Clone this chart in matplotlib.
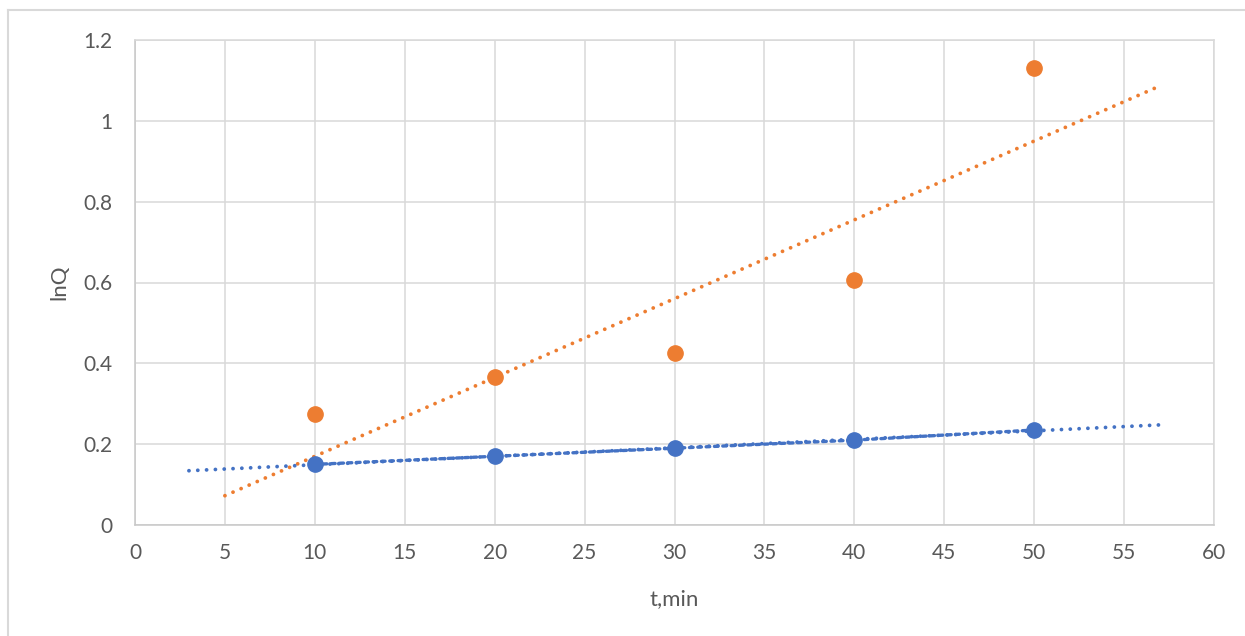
import numpy as np
import matplotlib
matplotlib.use("Agg")
import matplotlib.pyplot as plt
from matplotlib.lines import Line2D

# Data
t_min = [10, 20, 30, 40, 50]
lnQ_blue = [0.150, 0.170, 0.190, 0.210, 0.235]
lnQ_orange = [0.275, 0.365, 0.425, 0.605, 1.130]
blue_trend_range = [3, 57]
orange_trend_range = [5, 57]
x_ticks = [0, 5, 10, 15, 20, 25, 30, 35, 40, 45, 50, 55, 60]
y_ticks = [0, 0.2, 0.4, 0.6, 0.8, 1.0, 1.2]
y_tick_labels = ["0", "0.2", "0.4", "0.6", "0.8", "1", "1.2"]

BLUE = "#4472C4"
ORANGE = "#ED7D31"
GRID = "#D9D9D9"
TXT = "#595959"

plt.rcParams['font.family'] = ['Lato', 'DejaVu Sans']

fig = plt.figure(figsize=(12.45, 6.36), dpi=100)
ax = fig.add_axes([135/1245, 1-525/636, (1214-135)/1245, (525-40)/636])

# chart border (top and left)
fig.add_artist(Line2D([8/1245, 8/1245], [0, 1-10/636], transform=fig.transFigure,
                      color=GRID, lw=1.5))
fig.add_artist(Line2D([8/1245, 1], [1-10/636, 1-10/636], transform=fig.transFigure,
                      color=GRID, lw=1.5))

ax.set_xlim(0, 60)
ax.set_ylim(0, 1.2)
ax.set_xticks(x_ticks)
ax.set_yticks(y_ticks)
ax.set_yticklabels(y_tick_labels)
ax.grid(True, color=GRID, lw=1.1)
ax.set_axisbelow(True)
for s in ax.spines.values():
    s.set_color(GRID)
    s.set_linewidth(1.1)
ax.spines['bottom'].set_color("#C8C8C8")
ax.spines['left'].set_color("#C8C8C8")
ax.tick_params(length=0, labelsize=15, colors=TXT)
ax.tick_params(axis='x', pad=13)
ax.tick_params(axis='y', pad=16)

# trendlines (linear least squares)
def trend(x, y, rng):
    k, b = np.polyfit(x, y, 1)
    xs = np.array(rng, dtype=float)
    return xs, k * xs + b

dotted = (0, (0.01, 2.3))
xs, ys = trend(t_min, lnQ_orange, orange_trend_range)
ax.plot(xs, ys, color=ORANGE, lw=2.75, linestyle=dotted, dash_capstyle='round', zorder=3)

# blue series line
ax.plot(t_min, lnQ_blue, color=BLUE, lw=2.4, linestyle=(0, (1.1, 1.4)),
        dash_capstyle='round', zorder=3)
xs, ys = trend(t_min, lnQ_blue, blue_trend_range)
ax.plot(xs, ys, color=BLUE, lw=2.75, linestyle=dotted, dash_capstyle='round', zorder=3)

ax.plot(t_min, lnQ_blue, 'o', color=BLUE, ms=11, mec=BLUE, zorder=4)
ax.plot(t_min, lnQ_orange, 'o', color=ORANGE, ms=11, mec=ORANGE, zorder=4)

ax.set_xlabel("t,min", fontsize=16, color=TXT, labelpad=19)
ax.set_ylabel("lnQ", fontsize=16, color=TXT, labelpad=10)

fig.savefig("out.png", dpi=100)
